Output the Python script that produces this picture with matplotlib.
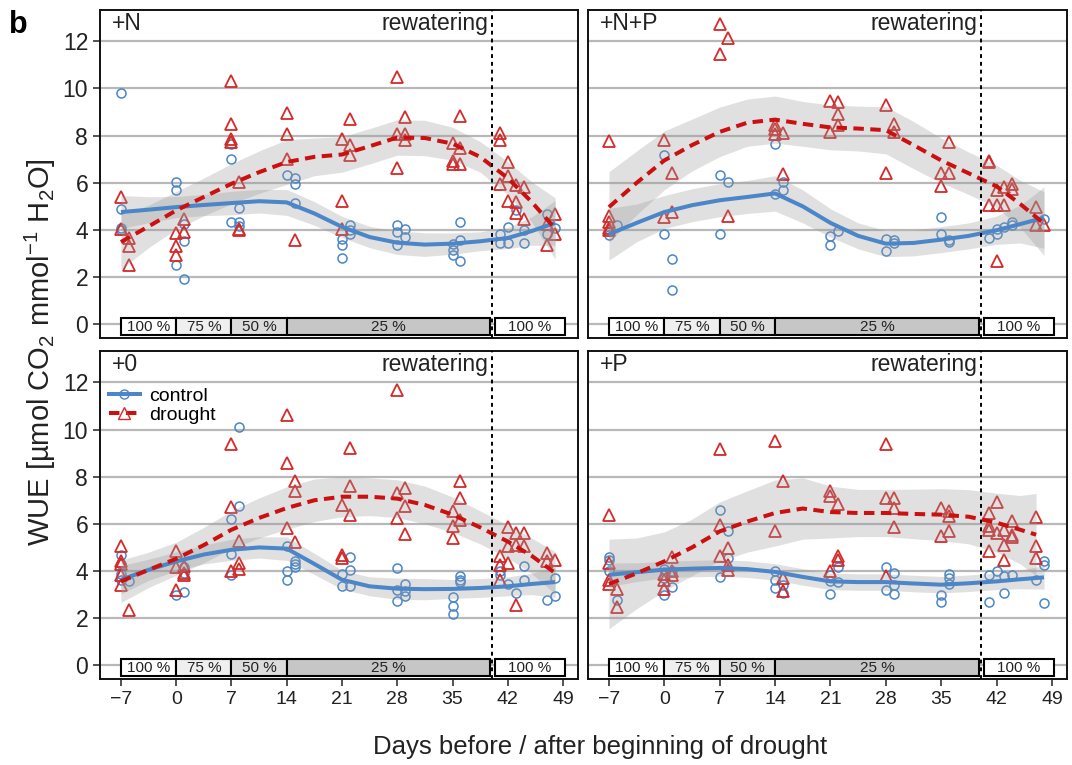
import matplotlib.pyplot as plt
import numpy as np
from matplotlib.lines import Line2D
from matplotlib.patches import Rectangle

plt.rcParams['font.family'] = ['Liberation Sans', 'DejaVu Sans']
plt.rcParams['mathtext.fontset'] = 'custom'
plt.rcParams['mathtext.rm'] = 'Liberation Sans'
plt.rcParams['mathtext.it'] = 'Liberation Sans'

# ---- raw measurements (day, WUE) ----
n_ctrl_day = [-7, -7, -7, -7, 0, 0, 0, 1, 1, 1, 7, 7, 7, 8, 8, 8, 14, 15, 15, 15, 21, 21, 21, 22, 22, 22,
              28, 28, 28, 29, 29, 35, 35, 35, 36, 36, 36, 41, 41, 42, 42, 43, 44, 44, 47, 47, 48]
n_ctrl_wue = [9.82, 4.88, 4.10, 3.99, 6.02, 5.68, 2.50, 4.27, 3.53, 1.94, 7.66, 7.02, 4.33, 4.93, 4.33, 4.16,
              6.32, 6.20, 5.95, 5.14, 3.63, 3.38, 2.83, 4.23, 3.99, 3.84, 4.20, 3.92, 3.35, 4.06, 3.70,
              3.42, 3.17, 2.93, 4.33, 3.59, 2.69, 3.82, 3.45, 4.13, 3.45, 4.83, 4.01, 3.45, 4.66, 3.84, 4.10]
n_dro_day = [-7, -7, -6, -6, -6, 0, 0, 0, 1, 1, 7, 7, 7, 7, 8, 8, 8, 14, 14, 14, 15, 21, 21, 21, 22, 22, 22,
             28, 28, 28, 29, 29, 29, 35, 35, 35, 36, 36, 36, 41, 41, 41, 42, 42, 42, 43, 43, 43, 44, 44,
             47, 47, 48, 48]
n_dro_wue = [5.40, 4.03, 3.66, 3.32, 2.53, 3.89, 3.32, 2.95, 4.45, 3.92, 10.30, 8.51, 7.87, 7.73, 6.04, 4.06,
             3.99, 8.98, 8.08, 7.00, 3.56, 7.87, 5.22, 4.06, 8.72, 7.59, 7.17, 10.49, 8.06, 6.64, 8.79, 8.08,
             7.80, 7.69, 6.91, 6.81, 8.83, 7.49, 6.81, 8.13, 7.80, 5.96, 6.88, 6.29, 5.22, 5.89, 5.19, 4.73,
             5.82, 4.45, 3.35, 4.27, 4.69, 3.82]

np_ctrl_day = [-7, -6, 0, 0, 1, 1, 7, 7, 8, 14, 14, 15, 15, 21, 21, 22, 28, 28, 29, 29, 35, 35, 36, 36,
               41, 42, 42, 43, 44, 44, 48]
np_ctrl_wue = [3.80, 4.20, 7.19, 3.84, 2.76, 1.44, 6.34, 3.84, 6.04, 7.66, 5.51, 6.04, 5.68, 3.73, 3.38,
               3.94, 3.63, 3.10, 3.56, 3.45, 4.55, 3.82, 3.56, 3.49, 3.66, 4.06, 3.82, 4.13, 4.34, 4.20, 4.48]
np_dro_day = [-7, -7, -7, -7, -7, 0, 0, 1, 1, 7, 7, 8, 8, 14, 14, 14, 15, 15, 21, 21, 22, 22, 22, 28, 28,
              29, 29, 35, 35, 36, 36, 41, 41, 41, 42, 42, 42, 43, 43, 44, 44, 47, 47, 48]
np_dro_wue = [7.76, 4.58, 4.34, 4.10, 3.99, 7.80, 4.55, 6.42, 4.78, 12.75, 11.48, 12.13, 4.59, 8.44, 8.06,
              8.30, 8.12, 6.39, 9.47, 8.16, 9.43, 8.93, 8.44, 9.32, 6.42, 8.51, 8.16, 6.43, 5.85, 7.73, 6.42,
              6.92, 6.88, 5.04, 5.68, 5.04, 2.68, 5.82, 5.04, 5.96, 5.75, 4.97, 4.20, 4.20]

o_ctrl_day = [-7, -7, -7, -7, -6, 0, 1, 1, 1, 7, 7, 7, 8, 8, 14, 14, 14, 15, 15, 15, 21, 21, 22, 22, 22,
              28, 28, 28, 29, 29, 29, 35, 35, 35, 36, 36, 36, 41, 41, 42, 43, 44, 44, 47, 48, 48]
o_ctrl_wue = [4.66, 4.30, 3.87, 3.63, 3.59, 3.00, 3.11, 4.16, 3.92, 6.22, 4.73, 3.84, 10.09, 6.74, 5.05,
              3.99, 3.60, 4.44, 4.30, 4.16, 3.87, 3.35, 4.61, 4.06, 3.38, 4.13, 3.21, 2.71, 3.45, 2.93, 3.17,
              2.90, 2.53, 2.18, 3.77, 3.63, 3.53, 3.99, 3.84, 3.45, 3.07, 4.23, 3.63, 2.78, 3.70, 2.93]
o_dro_day = [-7, -7, -7, -7, -7, -6, 0, 0, 0, 1, 1, 1, 7, 7, 7, 8, 8, 8, 14, 14, 14, 15, 15, 15, 21, 21, 21,
             22, 22, 22, 28, 28, 28, 29, 29, 29, 35, 35, 35, 36, 36, 36, 41, 41, 41, 42, 42, 42, 43, 43, 43,
             44, 44, 47, 47, 48]
o_dro_wue = [5.05, 4.41, 4.30, 3.84, 3.39, 2.33, 4.83, 4.16, 3.21, 4.20, 3.84, 3.92, 9.40, 6.71, 3.99, 5.29,
             4.34, 4.10, 10.60, 8.58, 5.82, 7.83, 7.41, 5.23, 4.69, 4.55, 6.81, 9.22, 7.59, 6.39, 11.69, 7.31,
             6.25, 7.52, 6.74, 5.57, 6.53, 5.89, 5.40, 7.83, 7.10, 6.18, 4.62, 4.27, 3.63, 5.85, 5.05, 4.34,
             2.57, 5.12, 5.61, 5.61, 5.05, 4.76, 4.41, 4.48]

p_ctrl_day = [-7, -7, -7, -6, 0, 0, 0, 1, 1, 7, 7, 8, 8, 14, 14, 14, 15, 15, 21, 21, 21, 22, 22, 28, 28,
              29, 29, 29, 35, 35, 36, 36, 36, 41, 41, 42, 43, 43, 44, 47, 48, 48, 48]
p_ctrl_wue = [4.58, 4.48, 3.99, 2.78, 4.10, 3.70, 2.97, 3.99, 3.31, 6.57, 3.73, 5.68, 4.55, 3.99, 3.63, 3.28,
              3.42, 3.07, 3.84, 3.59, 3.02, 4.16, 3.52, 4.16, 3.21, 3.92, 3.42, 3.02, 3.00, 2.67, 3.87, 3.70,
              3.45, 3.84, 2.67, 4.01, 3.80, 3.07, 3.84, 3.63, 4.41, 4.27, 2.64]
p_dro_day = [-7, -7, -7, -7, -6, -6, 0, 0, 0, 1, 1, 1, 7, 7, 7, 8, 8, 8, 14, 14, 15, 15, 15, 21, 21, 21,
             22, 22, 22, 28, 28, 28, 29, 29, 29, 35, 35, 36, 36, 36, 41, 41, 41, 41, 42, 42, 43, 43, 43,
             44, 44, 44, 47, 47, 47]
p_dro_wue = [6.39, 4.34, 3.63, 3.45, 3.25, 2.46, 3.87, 3.63, 3.24, 4.58, 3.99, 3.82, 9.17, 5.96, 4.62, 4.98,
             4.27, 4.03, 9.50, 5.68, 7.83, 3.70, 3.14, 7.38, 7.17, 3.99, 6.84, 4.48, 4.62, 9.39, 7.10, 3.80,
             7.10, 6.67, 5.85, 6.67, 5.47, 6.53, 6.32, 5.71, 6.46, 5.89, 5.75, 4.86, 6.93, 5.61, 5.75, 5.12,
             4.48, 6.13, 5.54, 5.43, 6.28, 5.07, 4.55]

# ---- smoothed fits and their half band width ----
fit_days = [-7, -3.5, 0, 3.5, 7, 10.5, 14, 17.5, 21, 24.5, 28, 31.5, 35, 38.5, 42, 45, 48]
fit_days_47 = [-7, -3.5, 0, 3.5, 7, 10.5, 14, 17.5, 21, 24.5, 28, 31.5, 35, 38.5, 42, 45, 47]

n_ctrl_fit = [4.76, 4.86, 4.97, 5.06, 5.14, 5.22, 5.17, 4.70, 4.13, 3.70, 3.46, 3.38, 3.42, 3.52, 3.66, 3.95, 4.30]
n_ctrl_se = [0.70, 0.55, 0.45, 0.45, 0.50, 0.50, 0.55, 0.50, 0.45, 0.45, 0.50, 0.50, 0.45, 0.40, 0.45, 0.60, 0.95]
n_dro_fit = [3.49, 4.15, 4.83, 5.40, 5.96, 6.45, 6.88, 7.10, 7.20, 7.55, 7.92, 7.90, 7.66, 7.10, 6.20, 5.20, 4.06]
n_dro_se = [1.15, 0.90, 0.80, 0.80, 0.85, 0.90, 0.95, 0.80, 0.75, 0.75, 0.75, 0.75, 0.70, 0.65, 0.70, 0.85, 1.30]

np_ctrl_fit = [3.82, 4.30, 4.76, 5.05, 5.26, 5.40, 5.55, 5.00, 4.30, 3.75, 3.42, 3.45, 3.59, 3.75, 3.99, 4.25, 4.52]
np_ctrl_se = [1.10, 0.80, 0.70, 0.70, 0.70, 0.70, 0.75, 0.70, 0.60, 0.55, 0.55, 0.55, 0.55, 0.55, 0.60, 0.80, 1.30]
np_dro_fit = [4.97, 6.00, 6.95, 7.60, 8.16, 8.55, 8.68, 8.50, 8.35, 8.30, 8.23, 7.60, 6.95, 6.40, 5.85, 5.10, 4.27]
np_dro_se = [1.50, 1.35, 1.25, 1.10, 1.05, 1.00, 1.00, 0.95, 0.95, 0.95, 1.00, 1.00, 0.95, 0.90, 0.90, 1.00, 1.35]

o_ctrl_fit = [3.63, 4.05, 4.41, 4.70, 4.90, 5.00, 4.95, 4.30, 3.63, 3.35, 3.25, 3.23, 3.24, 3.28, 3.35, 3.45, 3.53]
o_ctrl_se = [0.60, 0.45, 0.40, 0.40, 0.45, 0.45, 0.50, 0.45, 0.40, 0.40, 0.45, 0.45, 0.40, 0.40, 0.40, 0.45, 0.65]
o_dro_fit = [3.56, 4.05, 4.52, 5.10, 5.75, 6.25, 6.67, 7.00, 7.15, 7.15, 7.07, 6.80, 6.39, 5.85, 5.25, 4.65, 3.92]
o_dro_se = [0.90, 0.75, 0.70, 0.75, 0.80, 0.85, 0.90, 0.90, 0.85, 0.80, 0.80, 0.80, 0.75, 0.70, 0.70, 0.75, 0.90]

p_ctrl_fit = [3.84, 3.95, 4.06, 4.10, 4.13, 4.08, 3.96, 3.75, 3.56, 3.53, 3.53, 3.47, 3.42, 3.48, 3.56, 3.65, 3.73]
p_ctrl_se = [0.50, 0.40, 0.35, 0.35, 0.35, 0.35, 0.35, 0.35, 0.35, 0.35, 0.35, 0.35, 0.35, 0.35, 0.35, 0.40, 0.50]
p_dro_fit = [3.45, 3.90, 4.41, 5.00, 5.68, 6.10, 6.46, 6.65, 6.50, 6.46, 6.46, 6.42, 6.39, 6.30, 6.05, 5.75, 5.54]
p_dro_se = [1.90, 1.50, 1.25, 1.20, 1.25, 1.30, 1.40, 1.30, 1.10, 1.00, 1.00, 1.05, 1.10, 1.15, 1.25, 1.45, 1.75]

# ---- irrigation phases ----
phase_labels = ['100 %', '75 %', '50 %', '25 %', '100 %']
phase_start = [-7, 0, 7, 14, 40.4]
phase_end = [0, 7, 14, 39.8, 49.2]
phase_fill = ['white', '#efefef', '#dcdcdc', '#c6c6c6', 'white']
rewater_day = 40

xticks = [-7, 0, 7, 14, 21, 28, 35, 42, 49]
yticks = [0, 2, 4, 6, 8, 10, 12]

BLUE = '#4a86c8'
RED = '#d42a2a'
RED_LINE = '#cc1010'
TXT = '#222222'

panels = [
    ('+N', [0.0933, 0.5582, 0.4459, 0.4288],
     (n_ctrl_day, n_ctrl_wue, n_dro_day, n_dro_wue),
     (fit_days, n_ctrl_fit, n_ctrl_se), (fit_days, n_dro_fit, n_dro_se)),
    ('+N+P', [0.5485, 0.5582, 0.4468, 0.4288],
     (np_ctrl_day, np_ctrl_wue, np_dro_day, np_dro_wue),
     (fit_days, np_ctrl_fit, np_ctrl_se), (fit_days, np_dro_fit, np_dro_se)),
    ('+0', [0.0933, 0.1124, 0.4459, 0.4288],
     (o_ctrl_day, o_ctrl_wue, o_dro_day, o_dro_wue),
     (fit_days, o_ctrl_fit, o_ctrl_se), (fit_days, o_dro_fit, o_dro_se)),
    ('+P', [0.5485, 0.1124, 0.4468, 0.4288],
     (p_ctrl_day, p_ctrl_wue, p_dro_day, p_dro_wue),
     (fit_days, p_ctrl_fit, p_ctrl_se), (fit_days_47, p_dro_fit, p_dro_se)),
]

fig = plt.figure(figsize=(10.72, 7.65), dpi=100)

for i, (name, pos, pts, cfit, dfit) in enumerate(panels):
    ax = fig.add_axes(pos)
    left = i % 2 == 0
    bottom = i >= 2
    ax.set_xlim(-9.65, 50.9)
    ax.set_ylim(-0.58, 13.33)
    for yv in yticks:
        ax.axhline(yv, color='#b8b8b8', lw=1.6, zorder=0)

    cd, cw, dd, dw = pts
    ax.plot(cd, cw, 'o', ms=6.5, mfc='none', mec=BLUE, mew=1.1, zorder=2)
    ax.plot(dd, dw, '^', ms=8.5, mfc='none', mec=RED, mew=1.3, zorder=2)

    for (fd, fv, fs) in (cfit, dfit):
        fd = np.array(fd)
        fv = np.array(fv)
        fs = np.array(fs)
        ax.fill_between(fd, fv - fs, fv + fs, color='#9a9a9a', alpha=0.3, lw=0, zorder=3)
    ax.plot(cfit[0], cfit[1], '-', color=BLUE, lw=2.9, zorder=4, solid_capstyle='butt')
    ax.plot(dfit[0], dfit[1], color=RED_LINE, lw=2.9, ls=(0, (2.6, 1.6)), zorder=4)

    ax.axvline(rewater_day, color='black', lw=1.4, ls=(0, (2, 2)), zorder=5)

    for lab, s, e, c in zip(phase_labels, phase_start, phase_end, phase_fill):
        ax.add_patch(Rectangle((s, -0.47), e - s, 0.75, facecolor=c, edgecolor='black',
                               lw=1.5, zorder=6))
        ax.text((s + e) / 2, -0.1, lab, ha='center', va='center', fontsize=11,
                color=TXT, zorder=7)

    ax.text(-8.2, 12.75, name, ha='left', va='center', fontsize=16.5, color=TXT)
    ax.text(39.6, 12.75, 'rewatering', ha='right', va='center', fontsize=16.5, color=TXT)

    ax.set_yticks(yticks)
    ax.set_xticks(xticks)
    ax.tick_params(direction='out', length=5, width=1.2, color='#333333')
    if left:
        ax.set_yticklabels([str(v) for v in yticks], fontsize=16.5, color=TXT)
    else:
        ax.tick_params(axis='y', left=False, labelleft=False)
    if bottom:
        ax.set_xticklabels([str(v).replace('-', '\u2212') for v in xticks], fontsize=14,
                           color=TXT)
    else:
        ax.tick_params(axis='x', bottom=False, labelbottom=False)
    for sp in ax.spines.values():
        sp.set_linewidth(1.4)
        sp.set_color('#111111')

    if name == '+0':
        handles = [Line2D([], [], color=BLUE, lw=2.9, marker='o', ms=6.5, mfc='none', mec=BLUE),
                   Line2D([], [], color=RED_LINE, lw=2.9, ls=(0, (2.6, 1.6)), marker='^', ms=8,
                          mfc='none', mec=RED)]
        ax.legend(handles, ['control', 'drought'], loc='upper left', bbox_to_anchor=(-0.01, 0.93),
                  frameon=False, fontsize=14, handlelength=1.6, handletextpad=0.45,
                  labelspacing=0.05, borderpad=0.2)

fig.text(0.008, 0.967, 'b', fontsize=22, fontweight='bold', va='center', ha='left')
fig.text(0.038, 0.54, r'WUE [µmol CO$_2$ mmol$^{-1}$ H$_2$O]', rotation=90,
         ha='center', va='center', fontsize=21, color=TXT)
fig.text(0.56, 0.024, 'Days before / after beginning of drought', ha='center', va='center',
         fontsize=18.5, color=TXT)

fig.savefig('out.png', dpi=100)
